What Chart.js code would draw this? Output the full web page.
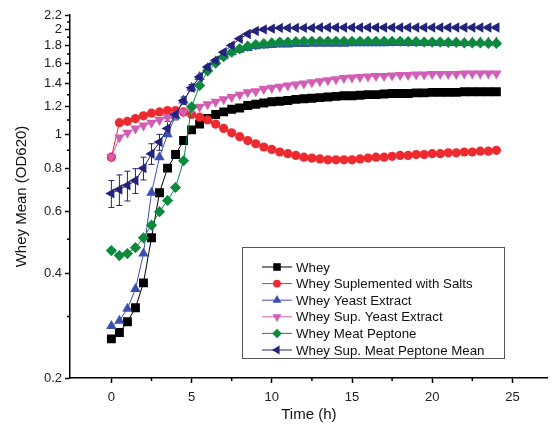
<!DOCTYPE html>
<html>
<head>
<meta charset="utf-8">
<script src="https://cdn.jsdelivr.net/npm/chart.js@4/dist/chart.umd.min.js"></script>
<style>
  html,body{margin:0;padding:0;background:#fff;}
  #wrap{position:relative;width:554px;height:433px;}
</style>
</head>
<body>
<div id="wrap"><canvas id="c"></canvas></div>
<script>
// growth curves, OD620 on a log axis, one reading every half hour
var times=[0,0.5,1,1.5,2,2.5,3,3.5,4,4.5,5,5.5,6,6.5,7,7.5,8,8.5,9,9.5,10,10.5,11,11.5,12,12.5,13,13.5,14,14.5,15,15.5,16,16.5,17,17.5,18,18.5,19,19.5,20,20.5,21,21.5,22,22.5,23,23.5,24]

var whey=[0.259,0.27,0.29,0.318,0.375,0.505,0.68,0.80,0.875,0.96,1.03,1.07,1.11,1.14,1.16,1.18,1.19,1.21,1.22,1.23,1.24,1.245,1.25,1.26,1.265,1.27,1.275,1.28,1.285,1.29,1.29,1.295,1.30,1.30,1.305,1.31,1.31,1.31,1.315,1.315,1.32,1.32,1.32,1.32,1.325,1.325,1.325,1.325,1.325]
var wheySalts=[0.86,1.08,1.09,1.11,1.13,1.15,1.16,1.17,1.17,1.16,1.14,1.12,1.10,1.07,1.04,1.01,0.985,0.96,0.94,0.92,0.905,0.89,0.88,0.87,0.86,0.855,0.85,0.845,0.845,0.845,0.845,0.85,0.855,0.86,0.86,0.865,0.87,0.87,0.875,0.875,0.88,0.88,0.885,0.885,0.89,0.89,0.895,0.895,0.90]
var wheyYeast=[0.282,0.292,0.316,0.36,0.455,0.68,0.86,1.00,1.13,1.25,1.36,1.46,1.55,1.62,1.68,1.72,1.75,1.77,1.79,1.80,1.805,1.81,1.81,1.815,1.815,1.82,1.82,1.82,1.82,1.82,1.825,1.825,1.825,1.825,1.825,1.83,1.83,1.83,1.83,1.83,1.83,1.83,1.83,1.83,1.83,1.835,1.835,1.835,1.835]
var wheySupYeast=[0.86,0.98,1.01,1.04,1.06,1.08,1.10,1.12,1.14,1.16,1.18,1.20,1.22,1.24,1.26,1.28,1.30,1.32,1.33,1.35,1.36,1.37,1.38,1.39,1.40,1.41,1.42,1.43,1.44,1.45,1.455,1.46,1.465,1.47,1.47,1.475,1.48,1.48,1.485,1.485,1.49,1.49,1.49,1.49,1.495,1.495,1.495,1.495,1.495]
var wheyPeptone=[0.464,0.449,0.455,0.473,0.505,0.549,0.60,0.646,0.704,0.84,1.20,1.38,1.52,1.60,1.67,1.72,1.76,1.79,1.81,1.82,1.83,1.84,1.84,1.845,1.85,1.85,1.85,1.85,1.85,1.85,1.85,1.85,1.85,1.85,1.85,1.85,1.85,1.845,1.845,1.84,1.84,1.84,1.835,1.835,1.83,1.83,1.83,1.825,1.825]
var wheySupPeptone=[0.677,0.695,0.714,0.737,0.80,0.88,0.95,1.04,1.14,1.25,1.36,1.46,1.56,1.63,1.72,1.80,1.88,1.94,1.98,2.00,2.01,2.02,2.02,2.02,2.02,2.02,2.025,2.025,2.025,2.025,2.025,2.025,2.025,2.025,2.025,2.025,2.025,2.025,2.025,2.025,2.025,2.025,2.025,2.025,2.025,2.025,2.025,2.025,2.025]
var wheySupPeptoneErr=[0.06,0.07,0.07,0.06,0.06,0.06,0.05,0.05,0.04,0.03,0.03,0.02,0.02,0.02,0.02,0.02,0.02,0.02,0.02,0.02,0.02,0.02,0.02,0.02,0.02,0.02,0.02,0.02,0.02,0.02,0.02,0.02,0.02,0.02,0.02,0.02,0.02,0.02,0.02,0.02,0.02,0.02,0.02,0.02,0.02,0.02,0.02,0.02,0.02]

var names=["Whey","Whey Suplemented with Salts","Whey Yeast Extract","Whey Sup. Yeast Extract","Whey Meat Peptone","Whey Sup. Meat Peptone Mean"]
var xTicks=[0,5,10,15,20,25]
var xMinor=[2.5,7.5,12.5,17.5,22.5]
var yTicks=[0.2,0.4,0.6,0.8,1,1.2,1.4,1.6,1.8,2,2.2]
var yMinor=[0.3,0.5,0.7,0.9,1.1,1.3,1.5,1.7,1.9,2.1]

var colors=['#000000','#ee2a2e','#3b4fae','#d35cb4','#0b8a3e','#23237c']
var styles=[
  {pointStyle:'rect',radius:6.3,rotation:0},
  {pointStyle:'circle',radius:4.6,rotation:0},
  {pointStyle:'triangle',radius:6,rotation:0},
  {pointStyle:'triangle',radius:6,rotation:180},
  {pointStyle:'rectRot',radius:5.6,rotation:0},
  {pointStyle:'triangle',radius:6,rotation:270}
]
var allSeries=[whey,wheySalts,wheyYeast,wheySupYeast,wheyPeptone,wheySupPeptone]

function pts(arr){
  return arr.map(function(v,i){return {x:times[i],y:v}})
}

var datasets=allSeries.map(function(s,i){
  return {
    label:names[i],
    data:pts(s),
    borderColor:colors[i],
    backgroundColor:colors[i],
    borderWidth:1,
    pointStyle:styles[i].pointStyle,
    pointRadius:styles[i].radius,
    pointRotation:styles[i].rotation,
    pointBorderWidth:0,
    pointBackgroundColor:colors[i],
    tension:0,
    order:6-i
  }
})

const extras={
  id:'extras',
  beforeDatasetsDraw:(chart)=>{
    // error bars of the last series
    const {ctx,scales:{x,y}}=chart
    ctx.save()
    ctx.strokeStyle=colors[5]
    ctx.lineWidth=1
    for(var i=0;i<times.length;i++){
      var px=x.getPixelForValue(times[i])
      var top=y.getPixelForValue(wheySupPeptone[i]+wheySupPeptoneErr[i])
      var bot=y.getPixelForValue(wheySupPeptone[i]-wheySupPeptoneErr[i])
      ctx.beginPath()
      ctx.moveTo(px,top);ctx.lineTo(px,bot)
      ctx.moveTo(px-3,top);ctx.lineTo(px+3,top)
      ctx.moveTo(px-3,bot);ctx.lineTo(px+3,bot)
      ctx.stroke()
    }
    ctx.restore()
  },
  afterDraw:(chart)=>{
    const {ctx,scales:{x,y},chartArea}=chart
    ctx.save()
    // minor ticks
    ctx.strokeStyle='#000'
    ctx.lineWidth=1.5
    ctx.beginPath()
    xMinor.forEach(function(v){
      var px=x.getPixelForValue(v)
      ctx.moveTo(px,chartArea.bottom);ctx.lineTo(px,chartArea.bottom+3)
    })
    yMinor.forEach(function(v){
      var py=y.getPixelForValue(v)
      ctx.moveTo(chartArea.left,py);ctx.lineTo(chartArea.left-3,py)
    })
    ctx.stroke()

    // legend box inside the plot
    var bx=242,by=247,bw=262,bh=111
    ctx.fillStyle='#fff'
    ctx.fillRect(bx,by,bw,bh)
    ctx.strokeStyle='#555'
    ctx.lineWidth=1
    ctx.strokeRect(bx+0.5,by+0.5,bw,bh)
    ctx.font='13.3px "Liberation Sans", Arial, sans-serif'
    ctx.textBaseline='middle'
    for(var i=0;i<names.length;i++){
      var ly=267+i*16.6
      ctx.strokeStyle=colors[i]
      ctx.fillStyle=colors[i]
      ctx.beginPath()
      ctx.moveTo(262,ly);ctx.lineTo(292,ly)
      ctx.stroke()
      Chart.helpers.drawPoint(ctx,{pointStyle:styles[i].pointStyle,radius:styles[i].radius*0.85,rotation:styles[i].rotation,borderWidth:0},277,ly)
      ctx.fillStyle='#111'
      ctx.fillText(names[i],296,ly+1)
    }
    ctx.restore()
  }
}

var config={
  type:'line',
  data:{datasets:datasets},
  options:{
    responsive:true,
    maintainAspectRatio:false,
    animation:false,
    layout:{padding:{top:15,right:0,left:0,bottom:0}},
    plugins:{legend:{display:false},tooltip:{enabled:false}},
    scales:{
      x:{
        type:'linear',
        min:-2.58,
        max:27.2,
        afterBuildTicks:function(s){s.ticks=xTicks.map(function(v){return {value:v}})},
        afterFit:function(s){s.height=55},
        grid:{display:true,drawOnChartArea:false,drawTicks:true,tickLength:5,tickWidth:1.5,tickColor:'#000'},
        border:{display:true,color:'#000',width:1.5},
        ticks:{color:'#222',font:{size:13,family:'"Liberation Sans", Arial'},padding:7,maxRotation:0},
        title:{display:true,text:'Time (h)',color:'#111',font:{size:15,family:'"Liberation Sans", Arial'},padding:{top:0,bottom:9}}
      },
      y:{
        type:'logarithmic',
        min:0.2,
        max:2.2,
        afterBuildTicks:function(s){s.ticks=yTicks.map(function(v){return {value:v}})},
        afterFit:function(s){s.width=70},
        grid:{display:true,drawOnChartArea:false,drawTicks:true,tickLength:5,tickWidth:1.5,tickColor:'#000'},
        border:{display:true,color:'#000',width:1.5},
        ticks:{color:'#222',font:{size:13,family:'"Liberation Sans", Arial'},padding:3,
          callback:function(v){return String(Math.round(v*10)/10)}},
        title:{display:true,text:'Whey Mean (OD620)',color:'#111',font:{size:15,family:'"Liberation Sans", Arial'},padding:{top:13,bottom:0}}
      }
    }
  },
  plugins:[extras]
}

var chart=new Chart(document.getElementById('c'),config)
</script>
</body>
</html>
